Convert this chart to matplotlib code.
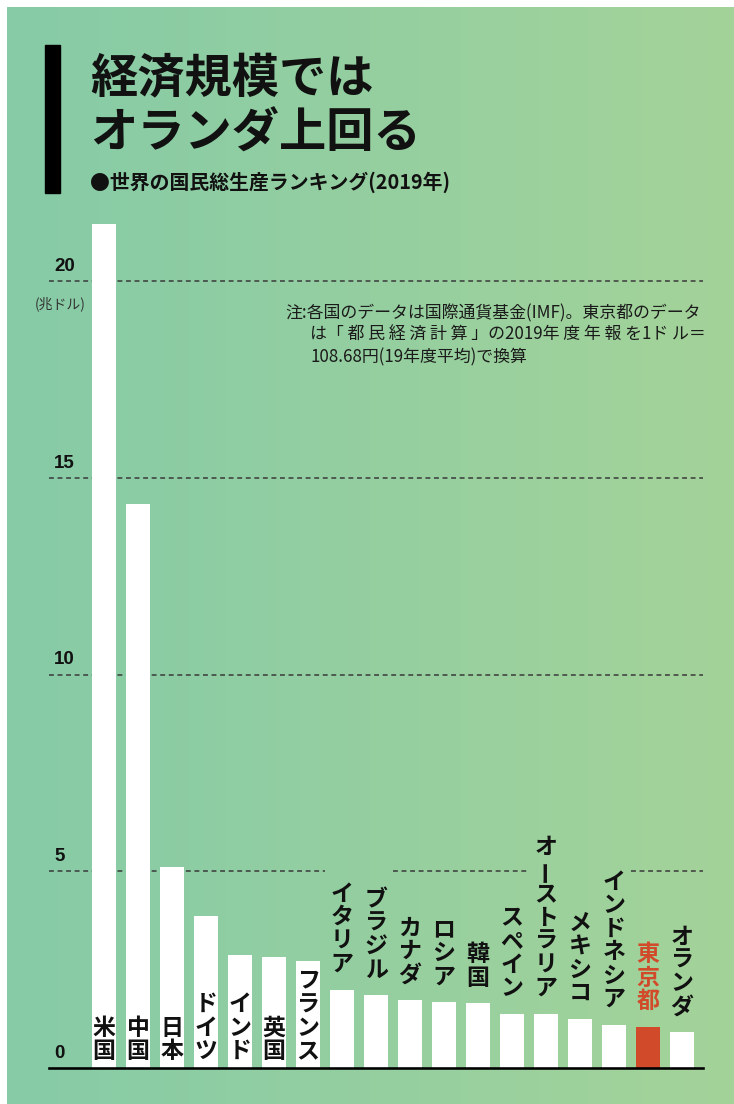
import numpy as np
import matplotlib
matplotlib.use("Agg")
import matplotlib.pyplot as plt

# GDP 2019 (trillion US dollars)
countries = ["米国", "中国", "日本", "ドイツ", "インド", "英国", "フランス", "イタリア",
             "ブラジル", "カナダ", "ロシア", "韓国", "スペイン", "オーストラリア",
             "メキシコ", "インドネシア", "東京都", "オランダ"]
gdp = [21.43, 14.34, 5.10, 3.88, 2.87, 2.83, 2.72, 2.00,
       1.86, 1.73, 1.69, 1.65, 1.39, 1.39, 1.26, 1.11, 1.06, 0.91]
highlight = "東京都"
yticks = [0, 5, 10, 15, 20]
# columns where the 5-trillion guide line is interrupted by labels
grid5_gaps = [7, 8, 13, 14, 15]

title_lines = ["経済規模では", "オランダ上回る"]
subtitle = "●世界の国民総生産ランキング(2019年)"
unit_label = "(兆ドル)"
note_lines = ["注:各国のデータは国際通貨基金(IMF)。東京都のデータ",
              "は「 都 民 経 済 計 算 」の2019年 度 年 報 を1ド ル＝",
              "108.68円(19年度平均)で換算"]

JP = ["Noto Sans CJK JP", "DejaVu Sans"]
NUM = ["Liberation Sans Narrow", "Liberation Sans", "DejaVu Sans"]
plt.rcParams["font.family"] = JP

W, H = 734, 1104
DPI = 100
fig = plt.figure(figsize=(W / DPI, H / DPI), dpi=DPI, facecolor="white")


def fx(x):
    return x / W


def fy(y):
    return 1 - y / H


PT = 72 / DPI  # points per pixel

# gradient panel
bg = fig.add_axes([fx(7), 0, fx(W - 7), fy(7)])
c_left = np.array([134, 203, 167]) / 255
c_right = np.array([164, 211, 153]) / 255
t = np.linspace(0, 1, 256)
grad = (c_left[None, :] * (1 - t[:, None]) + c_right[None, :] * t[:, None])[None, :, :]
bg.imshow(grad, aspect="auto", extent=[0, 1, 0, 1])
bg.set_axis_off()

# title block
fig.patches.append(plt.Rectangle((fx(45), fy(193)), fx(15), fy(45) - fy(193),
                                 transform=fig.transFigure, color="black"))
fig.text(fx(90), fy(78), title_lines[0], fontsize=34, fontweight="bold",
         va="center", ha="left", color="#111")
fig.text(fx(90), fy(134), title_lines[1], fontsize=34, fontweight="bold",
         va="center", ha="left", color="#111")
fig.text(fx(90), fy(182), subtitle, fontsize=14.3, fontweight="bold",
         va="center", ha="left", color="#111")

# chart axes
base_px = 1068.3
unit_px = 39.38
top_px = 217
pitch = 34.0
x0_px = 104.0
left_px, right_px = 49, 703
ax = fig.add_axes([fx(left_px), 1 - base_px / H, (right_px - left_px) / W,
                   (base_px - top_px) / H])
ax.set_xlim((left_px - x0_px) / pitch, (right_px - x0_px) / pitch)
ax.set_ylim(0, (base_px - top_px) / unit_px)
ax.set_axis_off()

xs = np.arange(len(countries))
xmin, xmax = ax.get_xlim()

# dashed guide lines
for tv in yticks[1:]:
    if tv == 5:
        segs = []
        cur = xmin
        gaps = sorted(grid5_gaps)
        i = 0
        while i < len(gaps):
            j = i
            while j + 1 < len(gaps) and gaps[j + 1] == gaps[j] + 1:
                j += 1
            segs.append((cur, gaps[i] - 0.5))
            cur = gaps[j] + 0.5
            i = j + 1
        segs.append((cur, xmax))
    else:
        segs = [(xmin, xmax)]
    for a, b in segs:
        ax.hlines(tv, a, b, colors="#3a3a3a", linewidth=1.1,
                  linestyles=(0, (3.2, 2.4)), zorder=1)

# bars
colors = ["#D14B2B" if c == highlight else "white" for c in countries]
ax.bar(xs, gdp, width=0.71, color=colors, zorder=2)

# baseline
ax.axhline(0, color="black", linewidth=2.6 * PT, zorder=3, clip_on=False)

# y tick labels
for tv in yticks:
    ax.annotate(str(tv), xy=(0, tv), xycoords=("axes fraction", "data"),
                xytext=(5 * PT, 10 * PT), textcoords="offset points",
                ha="left", va="baseline", fontsize=13.5, fontweight="bold",
                family=NUM, color="#111")
ax.annotate(unit_label, xy=(0, 20), xycoords=("axes fraction", "data"),
            xytext=(-14 * PT, -23 * PT), textcoords="offset points",
            ha="left", va="center", fontsize=10, color="#333",
            annotation_clip=False)

# vertical category labels
char_pitch = 23.5
for i, (name, v) in enumerate(zip(countries, gdp)):
    inside = v > 2.5
    col = "#D14B2B" if name == highlight else "#111"
    if inside:
        anchor_y = 0
        first = 16.5
    else:
        anchor_y = v
        first = 25.0
    chars = list(name)
    n = len(chars)
    for k, ch in enumerate(chars):
        off = first + (n - 1 - k) * char_pitch
        rot = 90 if ch == "ー" else 0
        ax.annotate(ch, xy=(i, anchor_y), xytext=(0, off * PT),
                    textcoords="offset points", ha="center", va="center",
                    fontsize=16.5, fontweight="bold", color=col, rotation=rot,
                    zorder=4, annotation_clip=False)

# note
note_y = [313, 335, 357]
note_x = [285, 310, 310]
for s, xx, yy in zip(note_lines, note_x, note_y):
    fig.text(fx(xx), fy(yy), s, fontsize=12.2, va="center", ha="left",
             color="#1a1a1a")

fig.savefig("out.png", dpi=DPI, facecolor="white")
